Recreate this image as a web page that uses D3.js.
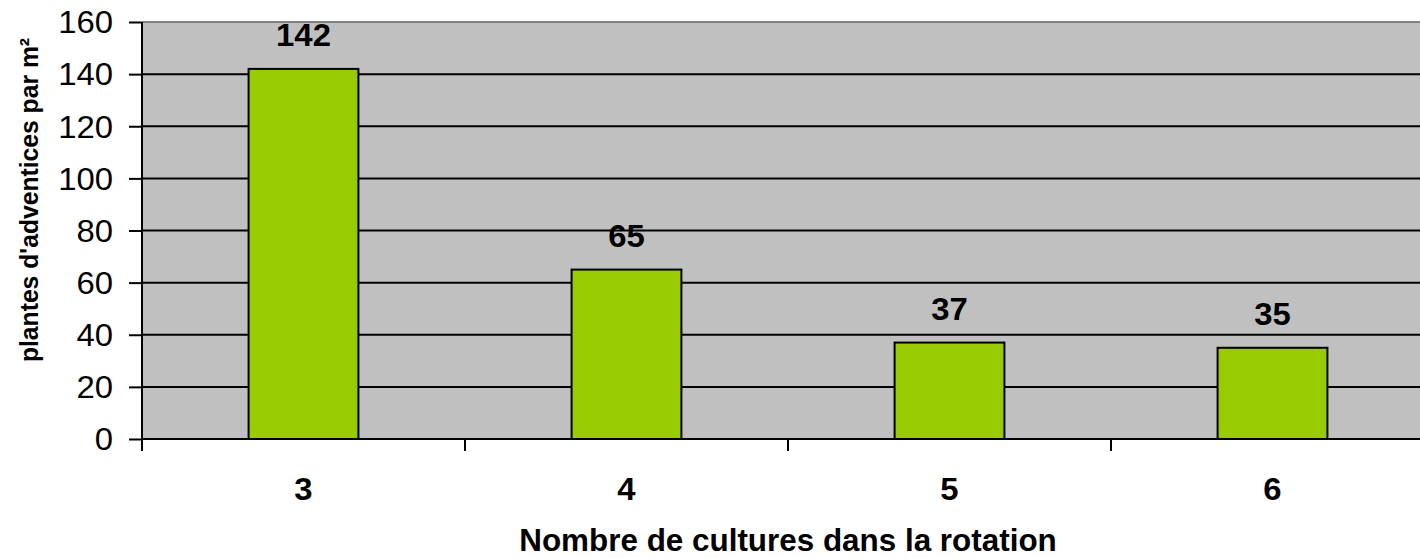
<!DOCTYPE html>
<html>
<head>
<meta charset="utf-8">
<script src="https://cdn.jsdelivr.net/npm/d3@7"></script>
<style>
  body { margin: 0; background: #fff; }
  svg text { font-family: "Liberation Sans", Arial, sans-serif; fill: #000; }
</style>
</head>
<body>
<svg class="chart" width="1420" height="558"></svg>
<script>
// ---- Data ----
const categories = ["3", "4", "5", "6"];
const values = [142, 65, 37, 35];
const yTicks = [0, 20, 40, 60, 80, 100, 120, 140, 160];
const xTitle = "Nombre de cultures dans la rotation";
const yTitle = "plantes d'adventices par m²";

// ---- Layout ----
const plot = { left: 142, right: 1434, top: 22, bottom: 439 };
const sx = 1.06; // the picture is a bit wider than tall, stretch text to match

const svg = d3.select("svg.chart");

const x = d3.scaleBand()
    .domain(categories)
    .range([plot.left, plot.right])
    .paddingInner(0.66)
    .paddingOuter(0.33);

const y = d3.scaleLinear()
    .domain([0, 160])
    .range([plot.bottom, plot.top]);

// plot background
svg.append("rect")
    .attr("x", plot.left).attr("y", plot.top)
    .attr("width", plot.right - plot.left)
    .attr("height", plot.bottom - plot.top)
    .attr("fill", "#c0c0c0");

// top border (grey)
svg.append("line")
    .attr("x1", plot.left).attr("x2", plot.right)
    .attr("y1", y(160)).attr("y2", y(160))
    .attr("stroke", "#808080").attr("stroke-width", 2);

// gridlines
svg.append("g")
    .selectAll("line")
    .data(yTicks.filter(d => d > 0 && d < 160))
    .join("line")
    .attr("x1", plot.left).attr("x2", plot.right)
    .attr("y1", d => y(d)).attr("y2", d => y(d))
    .attr("stroke", "#000").attr("stroke-width", 2);

// y axis with outward ticks
const yAxis = svg.append("g")
    .attr("transform", `translate(${plot.left},0)`)
    .call(d3.axisLeft(y).tickValues(yTicks).tickSize(13).tickPadding(16));
yAxis.select(".domain").remove();
yAxis.selectAll(".tick line").attr("stroke", "#000").attr("stroke-width", 2);
yAxis.selectAll(".tick text")
    .attr("font-size", 31)
    .attr("font-family", "Liberation Sans, Arial, sans-serif")
    .attr("dy", "0.35em")
    .attr("transform", function () {
        // stretch horizontally around right edge of label
        const xx = +d3.select(this).attr("x");
        return `translate(${xx},0) scale(${sx},1) translate(${-xx},0)`;
    });

// bars
svg.append("g")
    .selectAll("rect")
    .data(values)
    .join("rect")
    .attr("x", (d, i) => x(categories[i]))
    .attr("y", d => y(d))
    .attr("width", x.bandwidth())
    .attr("height", d => y(0) - y(d))
    .attr("fill", "#99cc00")
    .attr("stroke", "#000")
    .attr("stroke-width", 2);

// value labels
svg.append("g")
    .selectAll("text")
    .data(values)
    .join("text")
    .attr("transform", (d, i) =>
        `translate(${x(categories[i]) + x.bandwidth() / 2},${y(d) - 23}) scale(${sx},1)`)
    .attr("text-anchor", "middle")
    .attr("font-size", 31)
    .attr("font-weight", "bold")
    .text(d => d);

// left axis line
svg.append("line")
    .attr("x1", plot.left).attr("x2", plot.left)
    .attr("y1", plot.top).attr("y2", plot.bottom + 12)
    .attr("stroke", "#000").attr("stroke-width", 2);

// x axis line
svg.append("line")
    .attr("x1", plot.left).attr("x2", plot.right)
    .attr("y1", plot.bottom).attr("y2", plot.bottom)
    .attr("stroke", "#000").attr("stroke-width", 2);

// x ticks between categories
const step = x.step();
svg.append("g")
    .selectAll("line")
    .data(d3.range(categories.length + 1))
    .join("line")
    .attr("x1", i => plot.left + i * step).attr("x2", i => plot.left + i * step)
    .attr("y1", plot.bottom).attr("y2", plot.bottom + 12)
    .attr("stroke", "#000").attr("stroke-width", 2);

// category labels
svg.append("g")
    .selectAll("text")
    .data(categories)
    .join("text")
    .attr("transform", d => `translate(${x(d) + x.bandwidth() / 2},500) scale(${sx},1)`)
    .attr("text-anchor", "middle")
    .attr("font-size", 31)
    .attr("font-weight", "bold")
    .text(d => d);

// axis titles
svg.append("text")
    .attr("transform", `translate(${(plot.left + plot.right) / 2},551) scale(1.03,1)`)
    .attr("text-anchor", "middle")
    .attr("font-size", 30.5)
    .attr("font-weight", "bold")
    .text(xTitle);

svg.append("text")
    .attr("transform", `translate(38,${(38 + 362) / 2}) rotate(-90) scale(1,${sx})`)
    .attr("text-anchor", "middle")
    .attr("font-size", 24.7)
    .attr("font-weight", "bold")
    .text(yTitle);
</script>
</body>
</html>
